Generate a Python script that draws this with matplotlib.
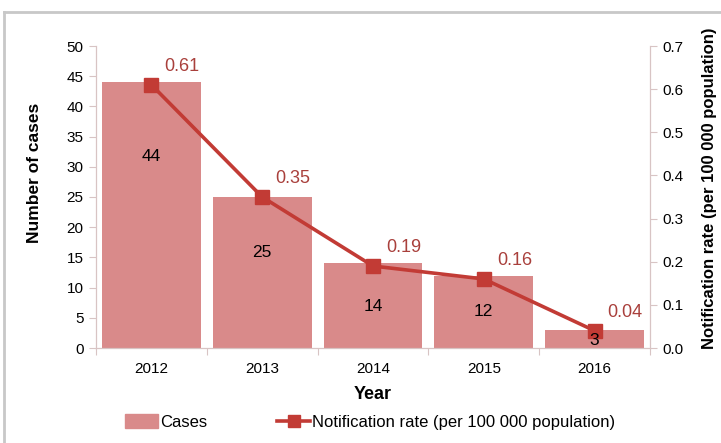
import matplotlib
matplotlib.use('Agg')

import matplotlib.pyplot as plt
from matplotlib.lines import Line2D
from matplotlib.patches import Rectangle
import numpy as np

plt.rcParams['font.family'] = ['Liberation Sans', 'DejaVu Sans']

years = ['2012', '2013', '2014', '2015', '2016']
cases = [44, 25, 14, 12, 3]
rate = [0.61, 0.35, 0.19, 0.16, 0.04]
# where each case count is written inside its bar (share of bar height)
case_label_frac = [0.72, 0.63, 0.49, 0.50, 0.43]

bar_col = '#D98A8A'
line_col = '#C23B35'
txt_col = '#A9403C'
spine_col = '#D8C4C4'

fig = plt.figure(figsize=(7.21, 4.43), dpi=100)
ax = fig.add_axes([96/721, 1-348/443, (650-96)/721, (348-46)/443])
ax2 = ax.twinx()

x = np.arange(len(years))
ax.bar(x, cases, width=0.89, color=bar_col, zorder=1)
ax.set_xlim(-0.5, len(years)-0.5)
ax.set_ylim(0, 50)
ax.set_yticks(np.arange(0, 51, 5))

ax2.plot(x, rate, color=line_col, lw=2.6, marker='s', ms=10,
		 markerfacecolor=line_col, markeredgecolor=line_col, zorder=4)
ax2.set_ylim(0, 0.7)
ax2.set_yticks(np.arange(0, 0.71, 0.1))
ax2.set_yticklabels(['%.1f' % v for v in np.arange(0, 0.71, 0.1)])
for xi, r in zip(x, rate):
	ax2.annotate('%.2f' % r, (xi, r), xytext=(22, 13), textcoords='offset points',
				 ha='center', va='center', fontsize=13, color=txt_col)

# case labels drawn on the top axes so they sit over the line markers
for xi, c, f in zip(x, cases, case_label_frac):
	ax2.text(xi, c*f, str(c), transform=ax.transData, ha='center', va='center',
			 fontsize=12.5, color='black', zorder=6)

# x ticks at category boundaries, labels at centres
ax.set_xticks(np.arange(-0.5, len(years), 1.0))
ax.set_xticklabels([])
ax.set_xticks(x, minor=True)
ax.set_xticklabels(years, minor=True)
ax.tick_params(axis='x', which='minor', length=0, labelsize=11, pad=10)
ax.tick_params(axis='x', which='major', length=5, color=spine_col)
ax.tick_params(axis='y', length=5, color=spine_col, labelsize=11, pad=4)
ax2.tick_params(axis='y', length=5, color=spine_col, labelsize=11, pad=4)

for a in (ax, ax2):
	a.spines['top'].set_visible(False)
	for s in ('left', 'right', 'bottom'):
		a.spines[s].set_color(spine_col)

ax.set_ylabel('Number of cases', fontsize=12.5, fontweight='bold')
ax.yaxis.set_label_coords(-0.097, 0.58)
ax2.set_ylabel('Notification rate (per 100 000 population)', fontsize=12,
			   fontweight='bold')
ax2.yaxis.set_label_coords(1.094, 0.53)
ax.set_xlabel('Year', fontsize=13, fontweight='bold', labelpad=7)

handles = [Rectangle((0, 0), 1, 1, color=bar_col),
		   Line2D([0], [0], color=line_col, lw=2.6, marker='s', ms=9)]
fig.legend(handles, ['Cases', 'Notification rate (per 100 000 population)'],
		   loc='center', bbox_to_anchor=(370/721, 1-422/443), ncol=2,
		   frameon=False, fontsize=12, handlelength=2.0, handleheight=0.9,
		   handletextpad=0.1, columnspacing=4.2)

# grey frame lines on the left and top
fig.add_artist(Line2D([4/721, 4/721], [0, 1-12/443], color='#C8C8C8', lw=2,
					  transform=fig.transFigure))
fig.add_artist(Line2D([4/721, 1], [1-12/443, 1-12/443], color='#C8C8C8', lw=2,
					  transform=fig.transFigure))

plt.savefig('out.png', dpi=100)
